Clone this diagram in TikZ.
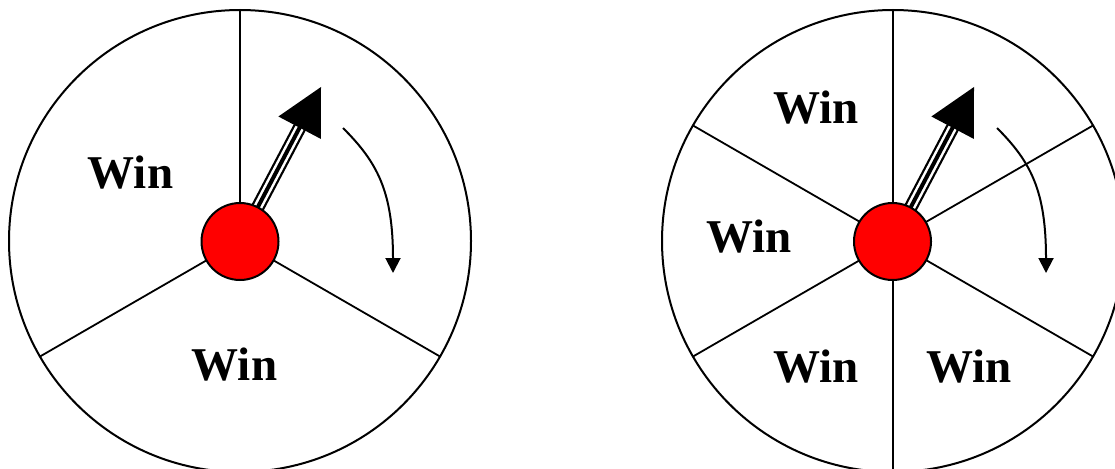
\documentclass[tikz,border=0pt]{standalone}
\usepackage{fontspec}
\setmainfont{Liberation Serif}
\usetikzlibrary{arrows.meta}
\tikzset{
  rim/.style={draw=black, line width=2pt},
  spoke/.style={draw=black, line width=1.8pt},
  hub/.style={circle, draw=black, line width=2pt, fill=red, minimum size=77pt, inner sep=0pt},
  label/.style={font=\fontsize{47pt}{50pt}\selectfont\bfseries, inner sep=0pt},
  shaftout/.style={draw=black, line width=13.5pt},
  shaftmid/.style={draw=white, line width=9pt},
  shaftin/.style={draw=black, line width=4pt},
  turn/.style={draw=black, line width=2pt, -{Triangle[length=15pt,width=15pt]}},
}
\begin{document}
\begin{tikzpicture}[x=1pt,y=-1pt]
\useasboundingbox (0,0) rectangle (1115,468);
% ---------- left wheel ----------
\begin{scope}[shift={(240,241)}]
  \coordinate (Lc) at (0,0);
  \draw[rim] (Lc) circle[radius=231pt];
  \coordinate (Lr1) at (0,-231);
  \coordinate (Lr2) at (200,115.5);
  \coordinate (Lr3) at (-200,115.5);
  \draw[spoke] (Lc) -- (Lr1);
  \draw[spoke] (Lc) -- (Lr2);
  \draw[spoke] (Lc) -- (Lr3);
  \coordinate (Lb) at (61,-116);
  \draw[shaftout] (Lc) -- (Lb);
  \draw[shaftmid] (Lc) -- (Lb);
  \draw[shaftin] (Lc) -- (Lb);
  \coordinate (Lt) at (81,-154);
  \coordinate (Lh1) at (80.8,-102.1);
  \coordinate (Lh2) at (38.4,-124.5);
  \fill[black] (Lt) -- (Lh1) -- (Lh2) -- cycle;
  \node[hub] (Lhub) at (0,0.5) {};
  \coordinate (La0) at (103,-113);
  \coordinate (La1) at (153,32);
  \draw[turn] (La0) .. controls (137,-79) and (153,-50) .. (La1);
\end{scope}
\node[label] (L1) at (130.5,173) {Win};
\node[label] (L2) at (234.5,364.5) {Win};
% ---------- right wheel ----------
\begin{scope}[shift={(893,241)}]
  \coordinate (Rc) at (0,0);
  \draw[rim] (Rc) circle[radius=231pt];
  \coordinate (Rr1) at (0,-231);
  \coordinate (Rr2) at (200,-115.5);
  \coordinate (Rr3) at (200,115.5);
  \coordinate (Rr4) at (0,231);
  \coordinate (Rr5) at (-200,115.5);
  \coordinate (Rr6) at (-200,-115.5);
  \foreach \k in {1,...,6} {\draw[spoke] (Rc) -- (Rr\k);}
  \coordinate (Rb) at (61,-116);
  \draw[shaftout] (Rc) -- (Rb);
  \draw[shaftmid] (Rc) -- (Rb);
  \draw[shaftin] (Rc) -- (Rb);
  \coordinate (Rt) at (81,-154);
  \coordinate (Rh1) at (80.8,-102.1);
  \coordinate (Rh2) at (38.4,-124.5);
  \fill[black] (Rt) -- (Rh1) -- (Rh2) -- cycle;
  \node[hub] (Rhub) at (-0.5,0.5) {};
  \coordinate (Ra0) at (104,-113);
  \coordinate (Ra1) at (153,32);
  \draw[turn] (Ra0) .. controls (138,-79) and (153,-50) .. (Ra1);
\end{scope}
\node[label] (R1) at (816,108) {Win};
\node[label] (R2) at (749,237) {Win};
\node[label] (R3) at (816,367) {Win};
\node[label] (R4) at (969,367) {Win};
\end{tikzpicture}
\end{document}
